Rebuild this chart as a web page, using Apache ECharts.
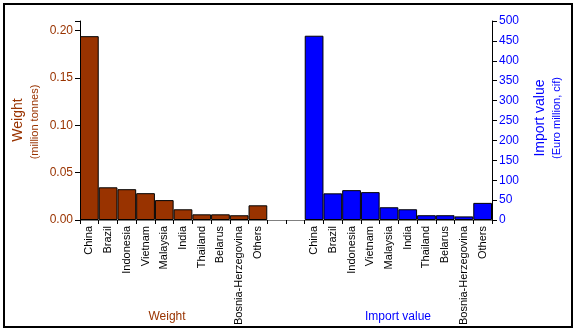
<!DOCTYPE html>
<html>
<head>
<meta charset="utf-8">
<script src="https://cdn.jsdelivr.net/npm/echarts@6/dist/echarts.min.js"></script>
<style>html,body{margin:0;padding:0;background:#fff}#c{width:577px;height:332px}</style>
</head>
<body>
<div id="c"></div>
<script>
var countries = ['China','Brazil','Indonesia','Vietnam','Malaysia','India','Thailand','Belarus','Bosnia-Herzegovina','Others'];
var weightValues = [0.194, 0.0345, 0.0325, 0.0283, 0.021, 0.0113, 0.006, 0.006, 0.005, 0.0155];
var importValues = [463, 67, 75, 70, 32, 27, 12, 12, 9, 43];
var gapSlots = 2;

var categories = [];
var weightData = [];
var importData = [];
countries.forEach(function (c, i) { categories.push(c); weightData.push(weightValues[i]); importData.push(null); });
for (var g = 0; g < gapSlots; g++) { categories.push(''); weightData.push(null); importData.push(null); }
countries.forEach(function (c, i) { categories.push(c); weightData.push(null); importData.push(importValues[i]); });

var FONT = 'Liberation Sans, Arial, sans-serif';
var chart = echarts.init(document.getElementById('c'));
chart.setOption({
  animation: false,
  backgroundColor: '#fff',
  grid: { left: 80, right: 85, top: 21, bottom: 112 },
  xAxis: [{
    type: 'category',
    data: categories,
    position: 'bottom',
    axisLine: { lineStyle: { color: '#000', width: 1 } },
    axisTick: { show: true, length: 4, lineStyle: { color: '#000' }, interval: 0 },
    axisLabel: { interval: 0, rotate: 90, fontFamily: FONT, fontSize: 11, color: '#000', margin: 6 }
  }, {
    type: 'category',
    data: categories,
    position: 'top',
    axisLine: { lineStyle: { color: '#808080', width: 1 } },
    axisTick: { show: false },
    axisLabel: { show: false }
  }],
  yAxis: [{
    type: 'value',
    min: 0, max: 0.21, interval: 0.05,
    position: 'left',
    splitLine: { show: false },
    axisLine: { show: true, lineStyle: { color: '#000' } },
    axisTick: { show: true, length: 5, lineStyle: { color: '#000' } },
    axisLabel: {
      fontFamily: FONT, fontSize: 12, color: '#993300', margin: 7,
      formatter: function (v) { return v > 0.2001 ? '' : v.toFixed(2); }
    }
  }, {
    type: 'value',
    min: 0, max: 500, interval: 50,
    position: 'right',
    splitLine: { show: false },
    axisLine: { show: true, lineStyle: { color: '#000' } },
    axisTick: { show: true, length: 5, lineStyle: { color: '#000' } },
    axisLabel: { fontFamily: FONT, fontSize: 12, color: '#0000FF', margin: 7 }
  }],
  series: [{
    type: 'bar', name: 'Weight', xAxisIndex: 0, yAxisIndex: 0,
    data: weightData, barWidth: '100%', barGap: '-100%',
    itemStyle: { color: '#993300', borderColor: '#000', borderWidth: 1 }
  }, {
    type: 'bar', name: 'Import value', xAxisIndex: 0, yAxisIndex: 1,
    data: importData, barWidth: '100%', barGap: '-100%',
    itemStyle: { color: '#0000FF', borderColor: '#000', borderWidth: 1 }
  }],
  graphic: [
    { type: 'rect', shape: { x: 4, y: 4, width: 568, height: 323 }, style: { fill: 'none', stroke: '#000', lineWidth: 2 }, z: 100 },
    { type: 'text', x: 18, y: 120, rotation: Math.PI / 2, style: { text: 'Weight', font: '14px ' + FONT, fill: '#993300', align: 'center', verticalAlign: 'middle' } },
    { type: 'text', x: 35, y: 122, rotation: Math.PI / 2, style: { text: '(million tonnes)', font: '11px ' + FONT, fill: '#993300', align: 'center', verticalAlign: 'middle' } },
    { type: 'text', x: 540, y: 118, rotation: Math.PI / 2, style: { text: 'Import value', font: '14px ' + FONT, fill: '#0000FF', align: 'center', verticalAlign: 'middle' } },
    { type: 'text', x: 557, y: 118, rotation: Math.PI / 2, style: { text: '(Euro million, cif)', font: '11px ' + FONT, fill: '#0000FF', align: 'center', verticalAlign: 'middle' } },
    { type: 'text', x: 167, y: 317, style: { text: 'Weight', font: '12px ' + FONT, fill: '#993300', align: 'center', verticalAlign: 'middle' } },
    { type: 'text', x: 398, y: 317, style: { text: 'Import value', font: '12px ' + FONT, fill: '#0000FF', align: 'center', verticalAlign: 'middle' } }
  ]
});
</script>
</body>
</html>
